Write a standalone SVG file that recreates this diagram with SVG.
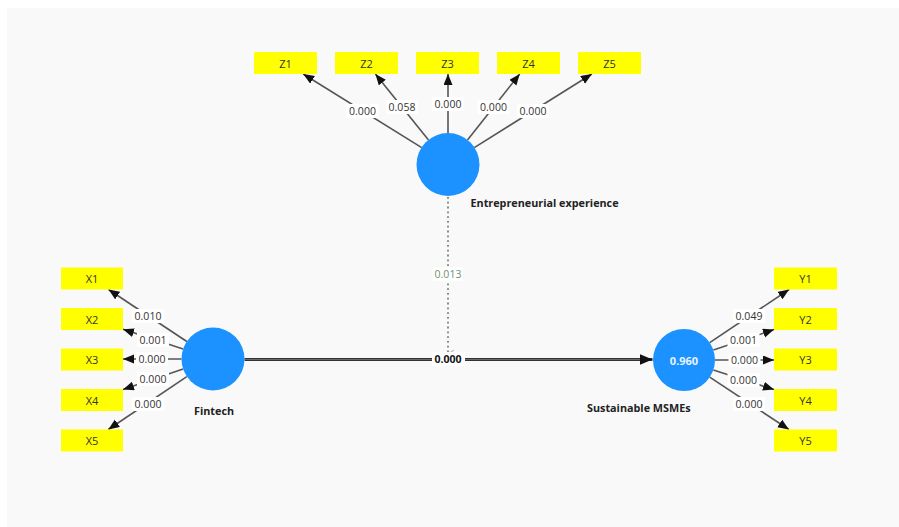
<svg xmlns="http://www.w3.org/2000/svg" width="899" height="527" viewBox="0 0 899 527">
  <style>
    .box { fill: #ffff00; }
    .boxtxt { font-family: "Open Sans", "Noto Sans", "Liberation Sans", sans-serif; font-size: 11px; fill: #333; text-anchor: middle; dominant-baseline: central; }
    .lv { fill: #1b92ff; }
    .name { font-family: "Open Sans", "Noto Sans", "Liberation Sans", sans-serif; font-size: 10.8px; font-weight: bold; fill: #222; dominant-baseline: central; }
    .edge { stroke: #555; stroke-width: 1.6; fill: none; marker-end: url(#arr); }
    .wbg { fill: #ffffff; }
    .wt { font-family: "Open Sans", "Noto Sans", "Liberation Sans", sans-serif; font-size: 10.5px; fill: #333; text-anchor: middle; dominant-baseline: central; }
    .mod { font-family: "Open Sans", "Noto Sans", "Liberation Sans", sans-serif; font-size: 10.5px; fill: #6f8f6f; text-anchor: middle; dominant-baseline: central; }
  </style>
  <defs>
    <marker id="arr" markerUnits="userSpaceOnUse" markerWidth="12" markerHeight="10" refX="11" refY="4.5" orient="auto">
      <path d="M0,0 L11,4.5 L0,9 z" fill="#111"/>
    </marker>
    <marker id="arrMain" markerUnits="userSpaceOnUse" markerWidth="14" markerHeight="12" refX="13" refY="5.5" orient="auto">
      <path d="M0,0 L13,5.5 L0,11 z" fill="#111"/>
    </marker>
    <marker id="arrOpen" markerUnits="userSpaceOnUse" markerWidth="10" markerHeight="8" refX="4" refY="6" orient="auto-start-reverse">
      <path d="M0,0 L4,6 L8,0" fill="none" stroke="#8a9c8a" stroke-width="0.8"/>
    </marker>
  </defs>

  <!-- canvas -->
  <rect x="0" y="0" width="899" height="527" fill="#ffffff"/>
  <rect x="7" y="8" width="892" height="519" fill="#f9f9f9"/>

  <!-- connectors -->
  <g id="connectors">
    <!-- Entrepreneurial experience indicators -->
    <line class="edge" x1="421.7" y1="147.6" x2="303.2" y2="74"/>
    <line class="edge" x1="428.5" y1="139.9" x2="375.4" y2="74"/>
    <line class="edge" x1="448" y1="133" x2="448" y2="74"/>
    <line class="edge" x1="467.5" y1="139.9" x2="519.7" y2="74"/>
    <line class="edge" x1="474.3" y1="147.6" x2="591.9" y2="74"/>
    <!-- Fintech indicators -->
    <line class="edge" x1="186.8" y1="341.5" x2="108.5" y2="289.5"/>
    <line class="edge" x1="183.1" y1="349.1" x2="123" y2="329.3"/>
    <line class="edge" x1="181.5" y1="359" x2="123" y2="359"/>
    <line class="edge" x1="183.1" y1="368.9" x2="123" y2="389.5"/>
    <line class="edge" x1="186.8" y1="376.6" x2="108.3" y2="429.5"/>
    <!-- Sustainable MSMEs indicators -->
    <line class="edge" x1="709.7" y1="342.7" x2="789.1" y2="289.5"/>
    <line class="edge" x1="713.4" y1="350.1" x2="774" y2="329.6"/>
    <line class="edge" x1="715" y1="360" x2="774" y2="360"/>
    <line class="edge" x1="713.4" y1="370" x2="774" y2="389.6"/>
    <line class="edge" x1="709.7" y1="377.2" x2="788.9" y2="429.5"/>
    <!-- structural path -->
    <line x1="244.5" y1="359.5" x2="652.5" y2="359.5" stroke="#333" stroke-width="3" marker-end="url(#arrMain)"/>
    <line x1="244.5" y1="359.5" x2="640" y2="359.5" stroke="#777" stroke-width="0.8"/>
    <!-- moderating effect -->
    <line x1="448" y1="197" x2="448" y2="354" stroke="#7f947f" stroke-width="2" stroke-dasharray="1.8 3" marker-end="url(#arrOpen)"/>

    <!-- weights -->
    <rect class="wbg" x="346.5" y="104" width="32" height="14"/><text class="wt" x="362.5" y="111">0.000</text>
    <rect class="wbg" x="386" y="100" width="32" height="14"/><text class="wt" x="402" y="107">0.058</text>
    <rect class="wbg" x="432" y="97" width="32" height="14"/><text class="wt" x="448" y="104">0.000</text>
    <rect class="wbg" x="477.5" y="100" width="32" height="14"/><text class="wt" x="493.5" y="107">0.000</text>
    <rect class="wbg" x="517" y="104" width="32" height="14"/><text class="wt" x="533" y="111">0.000</text>

    <rect class="wbg" x="132" y="309" width="32" height="14"/><text class="wt" x="148" y="316">0.010</text>
    <rect class="wbg" x="137" y="333" width="32" height="14"/><text class="wt" x="153" y="340">0.001</text>
    <rect class="wbg" x="136" y="352" width="32" height="14"/><text class="wt" x="152" y="359">0.000</text>
    <rect class="wbg" x="137" y="372" width="32" height="14"/><text class="wt" x="153" y="379">0.000</text>
    <rect class="wbg" x="132" y="397" width="32" height="14"/><text class="wt" x="148" y="404">0.000</text>

    <rect class="wbg" x="733" y="309" width="32" height="14"/><text class="wt" x="749" y="316">0.049</text>
    <rect class="wbg" x="727.5" y="333" width="32" height="14"/><text class="wt" x="743.5" y="340">0.001</text>
    <rect class="wbg" x="728.5" y="353" width="32" height="14"/><text class="wt" x="744.5" y="360">0.000</text>
    <rect class="wbg" x="727.5" y="373" width="32" height="14"/><text class="wt" x="743.5" y="380">0.000</text>
    <rect class="wbg" x="733" y="397" width="32" height="14"/><text class="wt" x="749" y="404">0.000</text>

    <rect class="wbg" x="433" y="267" width="30" height="14"/><text class="mod" x="448" y="274">0.013</text>
    <rect class="wbg" x="432" y="352" width="33" height="14"/><text class="wt" x="448" y="359" style="font-weight:bold;fill:#111">0.000</text>
  </g>

  <!-- latent variables -->
  <g id="entrepreneurial-experience">
    <circle class="lv" cx="448" cy="164.5" r="31.5"/>
    <text class="name" x="470.5" y="202.5">Entrepreneurial experience</text>
  </g>
  <g id="fintech">
    <circle class="lv" cx="213" cy="359" r="31.5"/>
    <text class="name" x="194" y="410">Fintech</text>
  </g>
  <g id="sustainable-msmes">
    <circle class="lv" cx="684" cy="360" r="31"/>
    <text x="684" y="360" style="font-family:'Open Sans','Noto Sans','Liberation Sans',sans-serif;font-size:11px;font-weight:bold;fill:#e8f3ff;text-anchor:middle;dominant-baseline:central">0.960</text>
    <text class="name" x="587" y="407">Sustainable MSMEs</text>
  </g>

  <!-- indicators -->
  <g id="Z1"><rect class="box" x="254" y="52" width="63" height="22"/><text class="boxtxt" x="285.5" y="63">Z1</text></g>
  <g id="Z2"><rect class="box" x="335" y="52" width="63" height="22"/><text class="boxtxt" x="366.5" y="63">Z2</text></g>
  <g id="Z3"><rect class="box" x="416" y="52" width="63" height="22"/><text class="boxtxt" x="447.5" y="63">Z3</text></g>
  <g id="Z4"><rect class="box" x="497" y="52" width="63" height="22"/><text class="boxtxt" x="528.5" y="63">Z4</text></g>
  <g id="Z5"><rect class="box" x="578" y="52" width="63" height="22"/><text class="boxtxt" x="609.5" y="63">Z5</text></g>

  <g id="X1"><rect class="box" x="61" y="267.5" width="62" height="22"/><text class="boxtxt" x="92" y="278.5">X1</text></g>
  <g id="X2"><rect class="box" x="61" y="308" width="62" height="22"/><text class="boxtxt" x="92" y="319">X2</text></g>
  <g id="X3"><rect class="box" x="61" y="348.5" width="62" height="22"/><text class="boxtxt" x="92" y="359.5">X3</text></g>
  <g id="X4"><rect class="box" x="61" y="389" width="62" height="22"/><text class="boxtxt" x="92" y="400">X4</text></g>
  <g id="X5"><rect class="box" x="61" y="429.5" width="62" height="22"/><text class="boxtxt" x="92" y="440.5">X5</text></g>

  <g id="Y1"><rect class="box" x="774" y="267.5" width="63" height="22"/><text class="boxtxt" x="805.5" y="278.5">Y1</text></g>
  <g id="Y2"><rect class="box" x="774" y="308" width="63" height="22"/><text class="boxtxt" x="805.5" y="319">Y2</text></g>
  <g id="Y3"><rect class="box" x="774" y="348.5" width="63" height="22"/><text class="boxtxt" x="805.5" y="359.5">Y3</text></g>
  <g id="Y4"><rect class="box" x="774" y="389" width="63" height="22"/><text class="boxtxt" x="805.5" y="400">Y4</text></g>
  <g id="Y5"><rect class="box" x="774" y="429.5" width="63" height="22"/><text class="boxtxt" x="805.5" y="440.5">Y5</text></g>
</svg>
